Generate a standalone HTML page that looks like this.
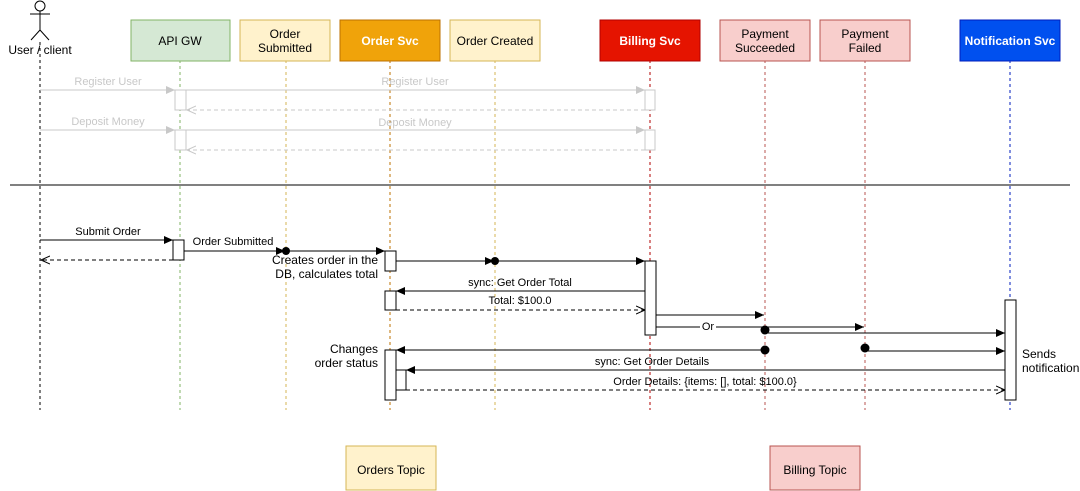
<!DOCTYPE html>
<html><head><meta charset="utf-8"><style>body{margin:0;background:#fff}svg{display:block;font-family:"Liberation Sans",Arial,sans-serif}</style></head><body>
<svg width="1080" height="491" viewBox="0 0 1080 491" xmlns="http://www.w3.org/2000/svg">
<defs>
<marker id="f" markerWidth="10" markerHeight="10" refX="9" refY="5" orient="auto" markerUnits="userSpaceOnUse"><path d="M0,1 L9,5 L0,9Z" fill="#000"/></marker>
<marker id="o" markerWidth="10" markerHeight="10" refX="9" refY="5" orient="auto" markerUnits="userSpaceOnUse"><path d="M0,1 L9,5 L0,9" fill="none" stroke="#000"/></marker>
<marker id="fg" markerWidth="10" markerHeight="10" refX="9" refY="5" orient="auto" markerUnits="userSpaceOnUse"><path d="M0,1 L9,5 L0,9Z" fill="#c8c8c8"/></marker>
<marker id="og" markerWidth="10" markerHeight="10" refX="9" refY="5" orient="auto" markerUnits="userSpaceOnUse"><path d="M0,1 L9,5 L0,9" fill="none" stroke="#c8c8c8"/></marker>
</defs>
<!-- lifelines -->
<g stroke-dasharray="3,3" fill="none">
<line x1="40" y1="42" x2="40" y2="410" stroke="#000"/>
<line x1="180" y1="60" x2="180" y2="410" stroke="#82b366"/>
<line x1="286" y1="60" x2="286" y2="410" stroke="#d6b656"/>
<line x1="390" y1="60" x2="390" y2="410" stroke="#BD7000"/>
<line x1="495" y1="60" x2="495" y2="410" stroke="#d6b656"/>
<line x1="650" y1="60" x2="650" y2="410" stroke="#B20000"/>
<line x1="765" y1="60" x2="765" y2="410" stroke="#b85450"/>
<line x1="865" y1="60" x2="865" y2="410" stroke="#b85450"/>
<line x1="1010" y1="60" x2="1010" y2="410" stroke="#001DBC"/>
</g>
<!-- actor -->
<g stroke="#000" fill="none"><circle cx="40" cy="6" r="5" fill="#fff"/><line x1="40" y1="11" x2="40" y2="30"/><line x1="30" y1="14" x2="50" y2="14"/><line x1="40" y1="30" x2="31" y2="40"/><line x1="40" y1="30" x2="49" y2="40"/></g>
<text x="40" y="54" font-size="12" text-anchor="middle">User / client</text>
<!-- headers -->
<g font-size="12" text-anchor="middle">
<rect x="131" y="20" width="99" height="41" fill="#d5e8d4" stroke="#82b366"/><text x="180" y="45">API GW</text>
<rect x="240" y="20" width="90" height="41" fill="#fff2cc" stroke="#d6b656"/><text x="285" y="38">Order</text><text x="285" y="52">Submitted</text>
<rect x="340" y="20" width="100" height="41" fill="#f0a30a" stroke="#BD7000"/><text x="390" y="45" fill="#fff" font-weight="bold">Order Svc</text>
<rect x="450" y="20" width="90" height="41" fill="#fff2cc" stroke="#d6b656"/><text x="495" y="45">Order Created</text>
<rect x="600" y="20" width="100" height="41" fill="#e51400" stroke="#B20000"/><text x="650" y="45" fill="#fff" font-weight="bold">Billing Svc</text>
<rect x="720" y="20" width="90" height="41" fill="#f8cecc" stroke="#b85450"/><text x="765" y="38">Payment</text><text x="765" y="52">Succeeded</text>
<rect x="820" y="20" width="90" height="41" fill="#f8cecc" stroke="#b85450"/><text x="865" y="38">Payment</text><text x="865" y="52">Failed</text>
<rect x="960" y="20" width="100" height="41" fill="#0050ef" stroke="#001DBC"/><text x="1010" y="45" fill="#fff" font-weight="bold">Notification Svc</text>
</g>
<!-- grey section -->
<g stroke="#c8c8c8" fill="none">
<line x1="40" y1="90" x2="175" y2="90" marker-end="url(#fg)"/>
<line x1="186" y1="90" x2="645" y2="90" marker-end="url(#fg)"/>
<line x1="645" y1="110" x2="187" y2="110" stroke-dasharray="4,3" marker-end="url(#og)"/>
<line x1="40" y1="130" x2="175" y2="130" marker-end="url(#fg)"/>
<line x1="186" y1="130" x2="645" y2="130" marker-end="url(#fg)"/>
<line x1="645" y1="150" x2="187" y2="150" stroke-dasharray="4,3" marker-end="url(#og)"/>
<rect x="175" y="90" width="11" height="20" fill="#fff"/><rect x="645" y="90" width="10" height="20" fill="#fff"/>
<rect x="175" y="130" width="11" height="20" fill="#fff"/><rect x="645" y="130" width="10" height="20" fill="#fff"/>
</g>
<g font-size="11" fill="#c8c8c8" text-anchor="middle">
<text x="108" y="85">Register User</text><text x="415" y="85">Register User</text>
<text x="108" y="125">Deposit Money</text><text x="415" y="126">Deposit Money</text>
</g>
<line x1="10" y1="185" x2="1070" y2="185" stroke="#000"/>
<!-- main section -->
<g stroke="#000" fill="none">
<line x1="40" y1="240" x2="173" y2="240" marker-end="url(#f)"/>
<line x1="173" y1="260" x2="41" y2="260" stroke-dasharray="4,3" marker-end="url(#o)"/>
<line x1="184" y1="251" x2="285" y2="251" marker-end="url(#f)"/>
<line x1="286" y1="251" x2="385" y2="251" marker-end="url(#f)"/>
<line x1="396" y1="261" x2="494" y2="261" marker-end="url(#f)"/>
<line x1="495" y1="261" x2="645" y2="261" marker-end="url(#f)"/>
<line x1="645" y1="291" x2="396" y2="291" marker-end="url(#f)"/>
<line x1="396" y1="310" x2="645" y2="310" stroke-dasharray="4,3" marker-end="url(#o)"/>
<line x1="656" y1="315" x2="764" y2="315" marker-end="url(#f)"/>
<line x1="656" y1="327" x2="864" y2="327" marker-end="url(#f)"/>
<line x1="765" y1="333" x2="1005" y2="333" marker-end="url(#f)"/>
<line x1="865" y1="351" x2="1005" y2="351" marker-end="url(#f)"/>
<line x1="765" y1="350" x2="396" y2="350" marker-end="url(#f)"/>
<line x1="1005" y1="370" x2="406" y2="370" marker-end="url(#f)"/>
<line x1="406" y1="390" x2="1005" y2="390" stroke-dasharray="4,3" marker-end="url(#o)"/>
<rect x="173" y="240" width="11" height="20" fill="#fff"/>
<rect x="385" y="251" width="11" height="20" fill="#fff"/>
<rect x="645" y="261" width="11" height="74" fill="#fff"/>
<rect x="385" y="291" width="11" height="19" fill="#fff"/>
<rect x="385" y="350" width="11" height="50" fill="#fff"/>
<rect x="396" y="370" width="10" height="20" fill="#fff"/>
<rect x="1005" y="300" width="11" height="100" fill="#fff"/>
</g>
<g fill="#000"><circle cx="286" cy="251" r="4"/><circle cx="495" cy="261" r="4"/><circle cx="765" cy="330" r="4.5"/><circle cx="765" cy="350" r="4.5"/><circle cx="865" cy="348" r="4.5"/></g>
<rect x="700" y="320" width="16" height="12" fill="#fff"/>
<g font-size="11" text-anchor="middle">
<text x="108" y="235">Submit Order</text>
<text x="233" y="245">Order Submitted</text>
<text x="520" y="286">sync: Get Order Total</text>
<text x="520" y="304">Total: $100.0</text>
<text x="708" y="330">Or</text>
<text x="652" y="365">sync: Get Order Details</text>
<text x="705" y="385">Order Details: {items: [], total: $100.0}</text>
</g>
<g font-size="12" text-anchor="end">
<text x="378" y="264">Creates order in the</text><text x="378" y="278">DB, calculates total</text>
<text x="378" y="353">Changes</text><text x="378" y="367">order status</text>
</g>
<text x="1022" y="358" font-size="12">Sends</text><text x="1022" y="372" font-size="12">notification</text>
<!-- topics -->
<g font-size="12" text-anchor="middle">
<rect x="346" y="446" width="90" height="44" fill="#fff2cc" stroke="#d6b656"/><text x="391" y="474">Orders Topic</text>
<rect x="770" y="446" width="90" height="44" fill="#f8cecc" stroke="#b85450"/><text x="815" y="474">Billing Topic</text>
</g>
</svg>
</body></html>
